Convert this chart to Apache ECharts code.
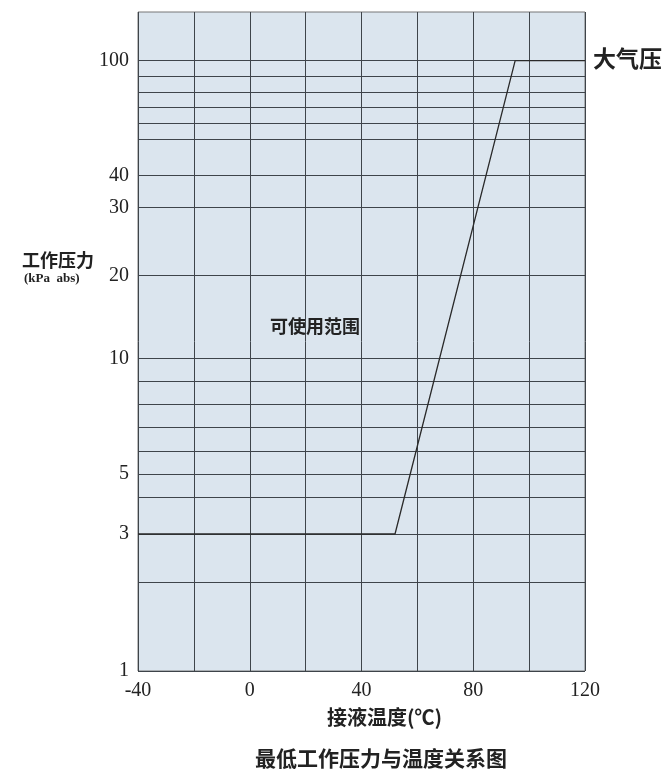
<!DOCTYPE html>
<html>
<head>
<meta charset="utf-8">
<script src="https://cdn.jsdelivr.net/npm/echarts@6/dist/echarts.min.js"></script>
<style>html,body{margin:0;padding:0;background:#fff;}#c{width:671px;height:773px;}</style>
</head>
<body>
<div id="c"></div>
<script>
// ---- data ----
const tempTicks = [-40, 0, 40, 80, 120];
const pressureGrid = [1, 2, 3, 4, 5, 6, 7, 8, 9, 10, 20, 30, 40, 50, 60, 70, 80, 90, 100];
const pressureLabels = [1, 3, 5, 10, 20, 30, 40, 100];
// chart's own (non-uniform) pressure scale: axis units for each grid pressure
const scaleUnits = [0, 88.7, 137, 173.7, 197, 220, 243.3, 266.7, 289.7, 312.7, 395.7, 463.7, 495.7, 532, 547.7, 563.3, 579, 594.7, 610.3];
const scaleTop = 659;
const limitTemp = [-40, 52, 95, 120];
const limitPressure = [3, 3, 100, 100];

function toUnit(p) {
  for (let i = 0; i < pressureGrid.length - 1; i++) {
    const a = pressureGrid[i], b = pressureGrid[i + 1];
    if (p >= a && p <= b) {
      return scaleUnits[i] + (p - a) / (b - a) * (scaleUnits[i + 1] - scaleUnits[i]);
    }
  }
  return p < 1 ? 0 : scaleUnits[scaleUnits.length - 1];
}
function fromUnit(u) {
  for (let i = 0; i < scaleUnits.length; i++) {
    if (Math.abs(scaleUnits[i] - u) < 0.01) return pressureGrid[i];
  }
  return '';
}

const chart = echarts.init(document.getElementById('c'));
const serif = '"Liberation Serif", "DejaVu Serif", serif';
const cjk = '"Noto Sans CJK SC", sans-serif';

chart.setOption({
  backgroundColor: '#ffffff',
  animation: false,
  grid: {
    left: 138, right: 86, top: 12, bottom: 102,
    show: true, backgroundColor: '#dbe5ee', borderColor: '#777', borderWidth: 1
  },
  xAxis: {
    type: 'value', min: -40, max: 120, interval: 20,
    axisLine: { show: false },
    axisTick: { show: false },
    splitLine: { show: true, lineStyle: { color: '#3e444a', width: 1 } },
    axisLabel: {
      margin: 10, color: '#222', fontFamily: serif, fontSize: 20,
      formatter: v => (tempTicks.indexOf(v) >= 0 ? String(v) : '')
    }
  },
  yAxis: {
    type: 'value', min: 0, max: scaleTop,
    axisLine: { show: false },
    axisTick: { show: false, customValues: pressureGrid.map(toUnit) },
    splitLine: { show: true, lineStyle: { color: '#3e444a', width: 1 } },
    axisLabel: {
      margin: 9, color: '#222', fontFamily: serif, fontSize: 20,
      customValues: pressureLabels.map(toUnit),
      formatter: v => String(fromUnit(v))
    }
  },
  graphic: [
    { type: 'text', left: 593, top: 47, style: { text: '大气压', font: 'bold 23px ' + cjk, fill: '#222' } },
    { type: 'text', left: 22, top: 251, style: { text: '工作压力', font: 'bold 18px ' + cjk, fill: '#222' } },
    { type: 'text', left: 24, top: 272, style: { text: '(kPa  abs)', font: 'bold 13px ' + serif, fill: '#222' } },
    { type: 'text', left: 270, top: 317, style: { text: '可使用范围', font: 'bold 18px ' + cjk, fill: '#222' } },
    { type: 'text', left: 327, top: 707, style: { text: '接液温度(℃)', font: 'bold 20px ' + cjk, fill: '#222' } },
    { type: 'text', left: 255, top: 748, style: { text: '最低工作压力与温度关系图', font: 'bold 21px ' + cjk, fill: '#222' } }
  ],
  series: [{
    type: 'line',
    data: limitTemp.map((t, i) => [t, toUnit(limitPressure[i])]),
    symbol: 'none',
    lineStyle: { color: '#2a2a2a', width: 1.3 },
    silent: true
  }]
});
</script>
</body>
</html>
